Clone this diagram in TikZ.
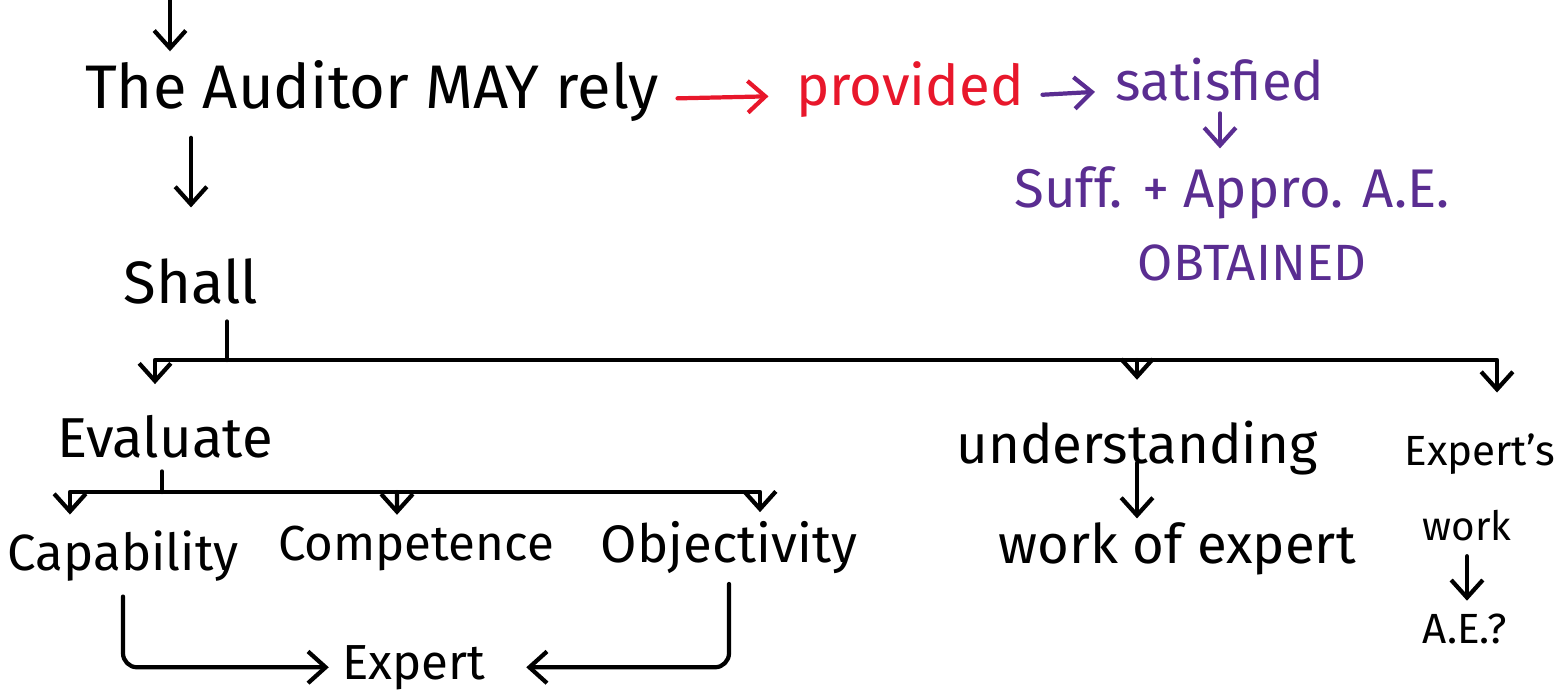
\documentclass[tikz,border=0pt]{standalone}
\usepackage{fontspec}
\setmainfont{Fira Sans}
\usetikzlibrary{arrows.meta}
\definecolor{penred}{HTML}{E8172B}
\definecolor{penpurple}{HTML}{5A2D91}
\tikzset{
  hand/.style={inner sep=0pt, font=\fontsize{#1}{#1}\selectfont},
  wire/.style={line width=1.2pt, line cap=round, line join=round},
  arr/.style={wire, -{Straight Barb[length=5pt,width=9pt]}},
}
\begin{document}
\begin{tikzpicture}[x=0.01cm, y=-0.01cm]
  \useasboundingbox (0,0) rectangle (1557,693);

  % Kopfzeile
  \node[hand=17.5, anchor=base] (auditor) at (372,108) {The Auditor MAY rely};
  \node[hand=16, anchor=base, text=penred] (provided) at (910,105) {provided};
  \node[hand=15.5, anchor=base, text=penpurple] (satisfied) at (1220,100) {satisfied};
  \node[hand=15.5, anchor=base, text=penpurple] (suff) at (1232,207) {Suff. + Appro. A.E.};
  \node[hand=14.5, anchor=base, text=penpurple] (obtained) at (1252,280) {OBTAINED};
  \coordinate (top) at (170,0);

  \draw[arr, shorten >=0.08cm] (top) -- (top |- auditor.north);
  \draw[arr, penred, shorten <=0.18cm, shorten >=0.27cm] (auditor.mid east) -- (provided.mid west);
  \draw[arr, penpurple, shorten <=0.18cm, shorten >=0.2cm] (provided.mid east) -- (satisfied.mid west);
  \draw[arr, penpurple, shorten <=0.12cm, shorten >=0.17cm] (satisfied.south) -- (suff.north -| satisfied.south);

  % Shall und Verzweigung
  \node[hand=17, anchor=base] (shall) at (191,303) {Shall};
  \draw[arr, shorten <=0.16cm, shorten >=0.5cm] (auditor.south -| shall.north) -- (shall.north);
  \coordinate (bar) at (227,360);

  \node[hand=16, anchor=base] (evaluate) at (165,457) {Evaluate};
  \node[hand=15.5, anchor=base] (understanding) at (1137,463) {understanding};
  \node[hand=15.5, anchor=base] (workof) at (1177,563) {work of expert};
  \node[hand=12, anchor=base] (experts) at (1480,465) {Expert's};
  \node[hand=11.5, anchor=base] (work) at (1467,540) {work};
  \node[hand=12, anchor=base] (ae) at (1465,643) {A.E.?};

  \draw[wire, shorten <=0.17cm] (shall.south -| bar) -- (bar);
  \draw[arr, shorten >=0.3cm] (bar) -| ([xshift=-0.1cm]evaluate.north);
  \draw[arr, shorten >=0.4cm] (bar -| understanding.north) -- (understanding.north);
  \draw[arr, shorten >=0.4cm] (bar) -| ([xshift=0.17cm]experts.north);
  \draw[arr, shorten >=0.03cm] (understanding.base) -- (understanding.base |- workof.north);
  \draw[arr, shorten <=0.15cm, shorten >=0.12cm] (work.south) -- (work.south |- ae.north);

  % Evaluate: drei Kriterien
  \node[hand=14.5, anchor=base] (capability) at (123,570) {Capability};
  \node[hand=14, anchor=base] (competence) at (416,560) {Competence};
  \node[hand=15, anchor=base] (objectivity) at (729,562) {Objectivity};
  \node[hand=14, anchor=base] (expert) at (414,679) {Expert};
  \coordinate (sub) at (162,492);

  \draw[wire, shorten <=0.13cm] (evaluate.south -| sub) -- (sub);
  \draw[arr, shorten >=0.15cm] (sub) -| ([xshift=-0.53cm]capability.north);
  \draw[arr, shorten >=0.1cm] (sub -| competence.north) ++(-19,0) -- ([xshift=-0.19cm]competence.north);
  \draw[arr, shorten >=0.08cm] (sub) -| ([xshift=0.31cm]objectivity.north);

  \draw[arr, rounded corners=4pt, shorten <=0.15cm, shorten >=0.13cm] (capability.south) |- (expert.west);
  \draw[arr, rounded corners=4pt, shorten <=0.1cm, shorten >=0.4cm] (objectivity.south) |- (expert.east);
\end{tikzpicture}
\end{document}
